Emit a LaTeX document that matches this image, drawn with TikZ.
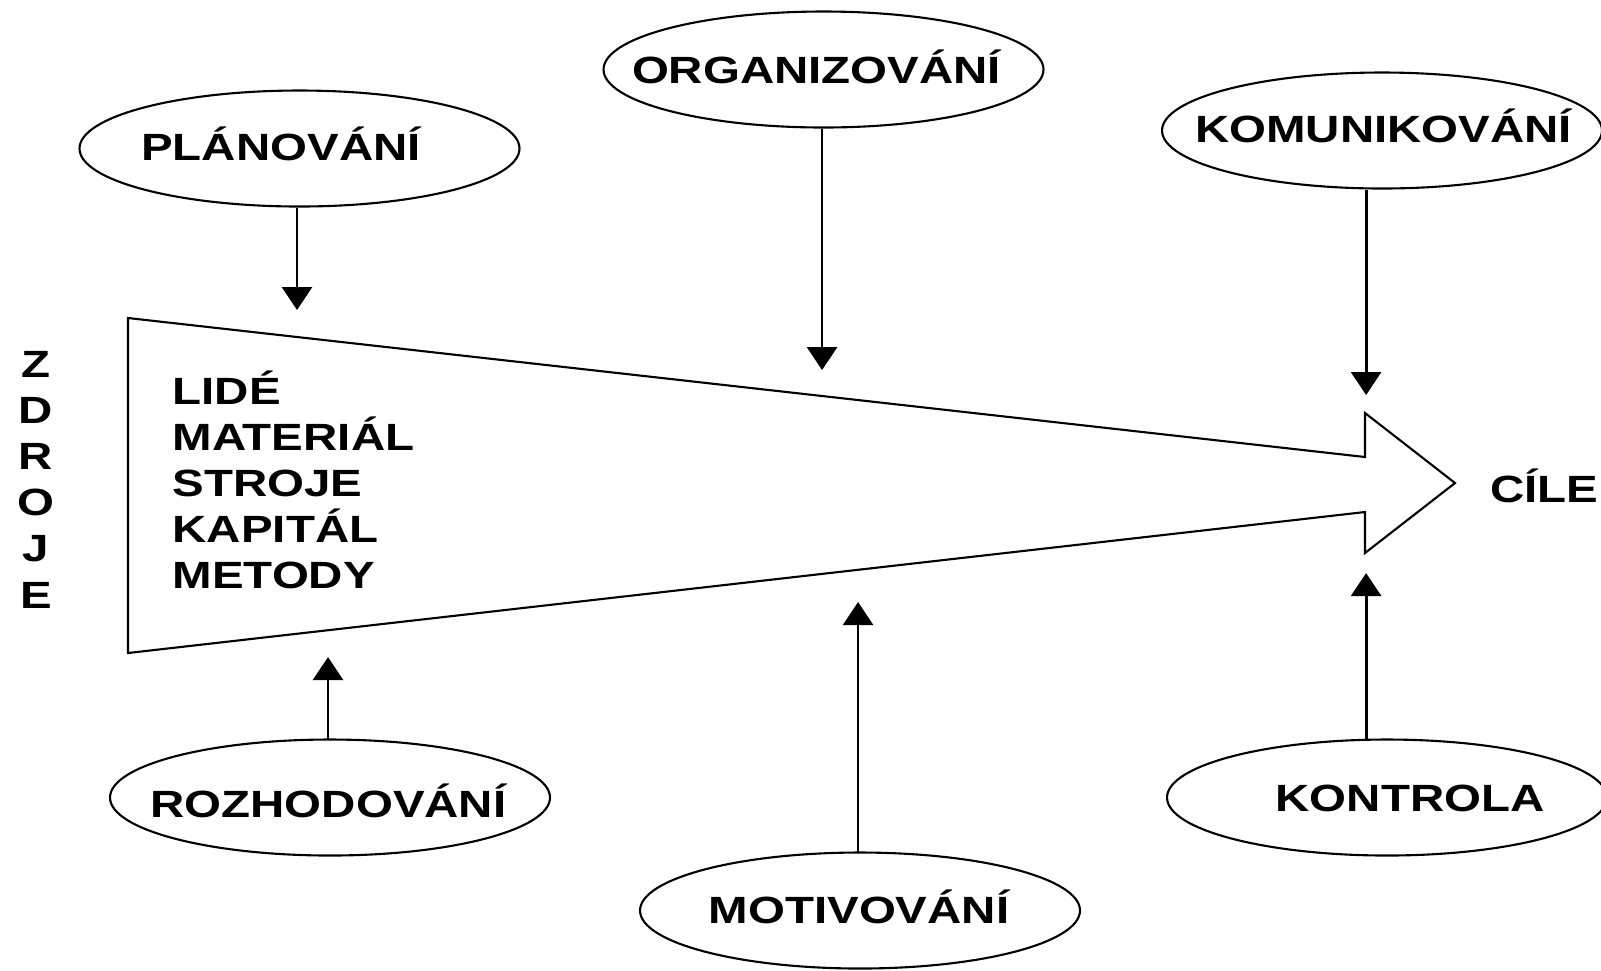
\documentclass[tikz,border=0pt]{standalone}
\usepackage{fontspec}
\newfontfamily\diafont{Liberation Sans}[FakeStretch=1.25]
\usetikzlibrary{shapes.geometric,arrows.meta}

\begin{document}
\begin{tikzpicture}[scale=0.1,
  ell/.style={draw, ellipse, minimum width=4.4cm, minimum height=1.16cm, line width=0.6pt},
  lbl/.style={font=\diafont\bfseries\fontsize{10.8}{13}\selectfont, anchor=base},
  feed/.style={line width=0.8pt, -{Triangle[width=3mm,length=2.3mm]}}]
\tikzstyle{every node}+=[inner sep=0pt]
\useasboundingbox (0,0) rectangle (160.1,-97);
% big arrow
\draw [line width=0.6pt] (12.8,-31.8) -- (136.5,-45.7) -- (136.5,-41.3) -- (145.5,-48.3) -- (136.5,-55.3) -- (136.5,-51.2) -- (12.8,-65.3) -- cycle;
\foreach \c [count=\i] in {Z,D,R,O,J,E}
  \node [lbl] (zdroje-\i) at (3.6,{-37.7-4.62*(\i-1)}) {\c};
\foreach \w [count=\i] in {LIDÉ,MATERIÁL,STROJE,KAPITÁL,METODY}
  \node [lbl, anchor=base west] (res-\i) at (17.2,{-40.4-4.6*(\i-1)}) {\w};
\node [lbl, anchor=base east] (cile) at (159.9,-50.2) {CÍLE};
% top ellipses
\node [ell] (plan) at (29.95,-14.85) {};
\node [lbl] (plan-t) at (28.1,-16.0) {PLÁNOVÁNÍ};
\node [ell] (org) at (82.35,-6.95) {};
\node [lbl] (org-t) at (81.65,-8.3) {ORGANIZOVÁNÍ};
\node [ell] (kom) at (138.2,-13.05) {};
\node [lbl] (kom-t) at (138.35,-14.2) {KOMUNIKOVÁNÍ};
% bottom ellipses
\node [ell] (roz) at (33.0,-79.75) {};
\node [lbl] (roz-t) at (32.85,-81.7) {ROZHODOVÁNÍ};
\node [ell] (mot) at (86.0,-91.05) {};
\node [lbl] (mot-t) at (85.9,-92.3) {MOTIVOVÁNÍ};
\node [ell] (kon) at (138.7,-79.75) {};
\node [lbl] (kon-t) at (141.0,-81.1) {KONTROLA};
% arrow tips
\coordinate (p-plan) at (29.7,-31.0);
\coordinate (p-org) at (82.2,-37.0);
\coordinate (p-kom) at (136.6,-39.5);
\coordinate (p-roz) at (32.8,-65.7);
\coordinate (p-mot) at (85.8,-60.2);
\coordinate (p-kon) at (136.6,-57.3);
\draw [feed] (plan.south -| p-plan) -- (p-plan);
\draw [feed] (org.south -| p-org) -- (p-org);
\draw [feed] (kom.south -| p-kom) -- (p-kom);
\draw [feed] (roz.north -| p-roz) -- (p-roz);
\draw [feed] (mot.north -| p-mot) -- (p-mot);
\draw [feed] (kon.north -| p-kon) -- (p-kon);
\end{tikzpicture}
\end{document}
